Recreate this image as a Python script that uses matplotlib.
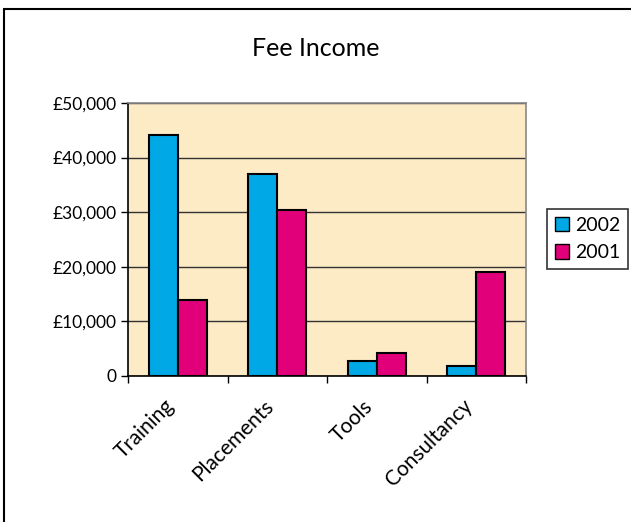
import matplotlib
matplotlib.use("Agg")
import matplotlib.pyplot as plt
from matplotlib.patches import Rectangle, Patch
from matplotlib.transforms import ScaledTranslation
import numpy as np

categories = ["Training", "Placements", "Tools", "Consultancy"]
series_names = ["2002", "2001"]
values_2002 = [44200, 37000, 2800, 1900]
values_2001 = [13900, 30400, 4300, 19100]
yticks = [0, 10000, 20000, 30000, 40000, 50000]
ytick_labels = ["0", "£10,000", "£20,000", "£30,000", "£40,000", "£50,000"]

c2002 = "#00A8E6"
c2001 = "#E2007A"
bg = "#FDEBC6"

plt.rcParams['font.family'] = ['Lato', 'DejaVu Sans']

fig = plt.figure(figsize=(6.31, 5.22), dpi=100)
W, H = 631, 522
ax = fig.add_axes([128 / W, 1 - 376 / H, 398 / W, 273 / H])
ax.set_facecolor(bg)

x = np.arange(len(categories))
bw = 0.29
ax.bar(x - bw / 2, values_2002, bw, color=c2002, edgecolor="black", linewidth=1.5, zorder=3)
ax.bar(x + bw / 2, values_2001, bw, color=c2001, edgecolor="black", linewidth=1.5, zorder=3)

ax.set_xlim(-0.5, len(categories) - 0.5)
ax.set_ylim(0, 50000)
ax.set_yticks(yticks)
ax.set_yticklabels(ytick_labels, fontsize=12.5)
ax.yaxis.grid(True, color="#333333", linewidth=1.0, zorder=1)
ax.set_axisbelow(True)

ax.set_xticks(np.arange(len(categories) + 1) - 0.5)
ax.set_xticklabels([])
ax.tick_params(axis="x", which="major", length=5, width=1, direction="out")
ax.tick_params(axis="y", length=5, width=1, direction="out", pad=3)

xform = ax.get_xaxis_transform() + ScaledTranslation(-7 / 100, -27 / 100, fig.dpi_scale_trans)
for i, cat in enumerate(categories):
    ax.text(x[i], 0, cat, transform=xform, rotation=45, ha="right", va="center",
            rotation_mode="anchor", fontsize=15)

for side in ["top", "right"]:
    ax.spines[side].set_color("#888888")
    ax.spines[side].set_linewidth(1.2)
for side in ["left", "bottom"]:
    ax.spines[side].set_color("black")
    ax.spines[side].set_linewidth(1.2)

fig.text(316 / W, 1 - 48 / H, "Fee Income", ha="center", va="center", fontsize=18)

handles = [Patch(facecolor=c2002, edgecolor="black", linewidth=1.0),
           Patch(facecolor=c2001, edgecolor="black", linewidth=1.0)]
leg = fig.legend(handles, series_names, loc="center left", bbox_to_anchor=(547 / W, 1 - 239 / H),
                 fontsize=14, frameon=True, fancybox=False, edgecolor="black",
                 handlelength=0.75, handleheight=0.75, handletextpad=0.3, borderpad=0.4,
                 labelspacing=0.55, borderaxespad=0)
leg.get_frame().set_linewidth(1.2)

# outer chart border
fig.patches.append(Rectangle((4 / W, -0.05), 1.1, 1 - 9 / H + 0.05, transform=fig.transFigure,
                             fill=False, edgecolor="black", linewidth=1.5))

fig.savefig("out.png", dpi=100)
